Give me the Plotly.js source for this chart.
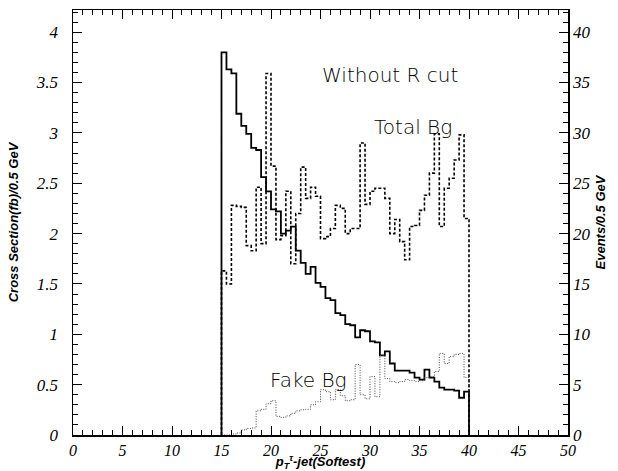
<!DOCTYPE html>
<html>
<head>
<meta charset="utf-8">
<script src="https://cdn.plot.ly/plotly-3.0.1.min.js"></script>
<style>html,body{margin:0;padding:0;background:#fff;}#chart{width:618px;height:471px;}</style>
</head>
<body>
<div id="chart"></div>
<script>
// Bin edges (GeV), 0.5 GeV bins from 15 to 40
const binEdges = [15,15.5,16,16.5,17,17.5,18,18.5,19,19.5,20,20.5,21,21.5,22,22.5,23,23.5,24,24.5,25,25.5,26,26.5,27,27.5,28,28.5,29,29.5,30,30.5,31,31.5,32,32.5,33,33.5,34,34.5,35,35.5,36,36.5,37,37.5,38,38.5,39,39.5,40];

// Signal cross section (fb / 0.5 GeV), left axis — "Without R cut"
const signalXsec = [3.80,3.63,3.59,3.19,3.07,2.99,2.85,2.83,2.56,2.42,
                    2.24,2.22,2.00,2.03,2.07,1.83,1.71,1.60,1.67,1.51,
                    1.47,1.36,1.34,1.21,1.19,1.10,1.09,0.97,1.04,1.03,
                    0.93,0.92,0.79,0.83,0.71,0.64,0.64,0.64,0.62,0.57,
                    0.55,0.65,0.57,0.53,0.47,0.45,0.45,0.44,0.37,0.43];

// Total background (events / 0.5 GeV), right axis
const totalBg = [16.3,15.0,22.8,22.7,22.6,18.8,18.3,24.6,19.0,35.9,
                 26.7,19.4,19.8,24.2,17.0,22.0,26.6,23.5,24.6,23.7,
                 19.5,19.7,20.5,22.8,22.5,20.0,20.5,20.5,29.0,22.9,
                 24.2,24.5,24.5,23.5,20.0,21.4,19.2,17.4,20.7,20.8,
                 22.3,23.8,26.0,29.9,20.7,24.5,25.5,27.3,29.8,21.5];

// Fake background (events / 0.5 GeV), right axis
const fakeBg = [0.0,0.0,0.1,0.2,0.5,0.65,0.7,2.4,2.55,3.1,
                3.4,1.85,1.75,1.9,2.15,2.4,2.5,2.55,3.0,3.3,
                4.5,4.3,3.5,4.5,3.9,3.4,3.5,7.0,4.0,3.6,
                5.8,3.8,7.9,5.6,5.3,5.2,5.3,5.5,5.4,5.3,
                5.4,5.7,5.8,6.3,8.1,7.1,7.8,8.0,8.1,5.7];

// Tick labels
const xTickVals = [0,5,10,15,20,25,30,35,40,45,50];
const yTickVals = [0,0.5,1,1.5,2,2.5,3,3.5,4];
const y2TickVals = [0,5,10,15,20,25,30,35,40];

const xTitle = "p<sub>T</sub><sup>τ</sup>-jet(Softest)";
const yTitle = "Cross Section(fb)/0.5 GeV";
const y2Title = "Events/0.5 GeV";

function stepTrace(vals) {
  const x = [binEdges[0]], y = [0];
  for (let i = 0; i < vals.length; i++) { x.push(binEdges[i]); y.push(vals[i]); }
  const last = binEdges[binEdges.length - 1];
  x.push(last); y.push(vals[vals.length - 1]);
  x.push(last); y.push(0);
  return {x, y};
}
const ital = v => v.map(n => '<i>' + n + '</i>');

const s = stepTrace(signalXsec), t = stepTrace(totalBg), f = stepTrace(fakeBg);

const traces = [
  {x: f.x, y: f.y, yaxis: 'y2', type: 'scatter', mode: 'lines', line: {shape: 'hv', color: '#444', width: 1, dash: '1px,1.5px'}, hoverinfo: 'skip'},
  {x: t.x, y: t.y, yaxis: 'y2', type: 'scatter', mode: 'lines', line: {shape: 'hv', color: '#000', width: 1.6, dash: '3px,2px'}, hoverinfo: 'skip'},
  {x: s.x, y: s.y, yaxis: 'y', type: 'scatter', mode: 'lines', line: {shape: 'hv', color: '#000', width: 1.8}, hoverinfo: 'skip'}
];

const SERIF = 'Liberation Serif';
const SANS = 'Liberation Sans';
function tickFont(sz) { return {family: SERIF, size: sz, color: '#000'}; }
function titleFont() { return {family: SANS, size: 13, weight: 'bold', style: 'italic', color: '#000'}; }
function annFont() { return {family: 'DejaVu Sans', size: 20, color: '#000', weight: 200}; }

const layout = {
  width: 618, height: 471,
  margin: {l: 73, r: 50, t: 10, b: 36},
  paper_bgcolor: '#fff', plot_bgcolor: '#fff',
  showlegend: false,
  font: {family: SERIF, color: '#000', size: 15},
  xaxis: {
    range: [0, 50], tickmode: 'array', tickvals: xTickVals, ticktext: ital(xTickVals),
    ticks: 'inside', ticklen: 9, tickwidth: 1, tickcolor: '#000',
    minor: {dtick: 1, tick0: 0, ticks: 'inside', ticklen: 5, tickwidth: 1, tickcolor: '#000'},
    showline: true, linewidth: 1.5, linecolor: '#000', mirror: 'ticks',
    showgrid: false, zeroline: false, tickfont: tickFont(16), automargin: false,
    title: {text: xTitle, font: titleFont(), standoff: 8}
  },
  yaxis: {
    range: [0, 4.22], tickmode: 'array', tickvals: yTickVals, ticktext: ital(yTickVals),
    ticks: 'inside', ticklen: 9, tickwidth: 1, tickcolor: '#000',
    minor: {dtick: 0.1, tick0: 0, ticks: 'inside', ticklen: 5, tickwidth: 1, tickcolor: '#000'},
    showline: true, linewidth: 1.5, linecolor: '#000',
    showgrid: false, zeroline: false, tickfont: tickFont(17), automargin: false,
    ticklabelstandoff: 10,
    title: {text: yTitle, font: titleFont(), standoff: 14}
  },
  yaxis2: {
    overlaying: 'y', side: 'right',
    range: [0, 42.2], tickmode: 'array', tickvals: y2TickVals, ticktext: ital(y2TickVals),
    ticks: 'inside', ticklen: 9, tickwidth: 1, tickcolor: '#000',
    minor: {dtick: 1, tick0: 0, ticks: 'inside', ticklen: 5, tickwidth: 1, tickcolor: '#000'},
    showline: true, linewidth: 1.5, linecolor: '#000',
    showgrid: false, zeroline: false, tickfont: tickFont(17), automargin: false,
    title: {text: y2Title, font: titleFont(), standoff: 6}
  },
  annotations: [
    {text: 'Without R cut', x: 32.0, y: 3.57, xref: 'x', yref: 'y', showarrow: false, font: annFont()},
    {text: 'Total Bg', x: 34.3, y: 3.06, xref: 'x', yref: 'y', showarrow: false, font: annFont()},
    {text: 'Fake Bg', x: 23.8, y: 0.55, xref: 'x', yref: 'y', showarrow: false, font: annFont()}
  ]
};

Plotly.newPlot('chart', traces, layout, {staticPlot: true, displayModeBar: false});
</script>
</body>
</html>
